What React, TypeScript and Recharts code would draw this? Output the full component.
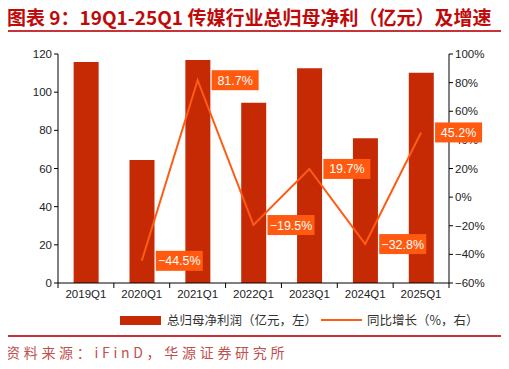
import React from 'react';
import { ComposedChart, Bar, Line, XAxis, YAxis, LabelList } from 'recharts';

const quarters = ['2019Q1', '2020Q1', '2021Q1', '2022Q1', '2023Q1', '2024Q1', '2025Q1'];
const profit = [115.8, 64.5, 116.9, 94.5, 112.5, 75.8, 110.2];
const growth: (number | null)[] = [null, -44.5, 81.7, -19.5, 19.7, -32.8, 45.2];
const leftTicks = [0, 20, 40, 60, 80, 100, 120];
const rightTicks = [-60, -40, -20, 0, 20, 40, 60, 80, 100];

const data = quarters.map((q, i) => ({ q, profit: profit[i], growth: growth[i] }));

const BAR = '#C62A05';
const LINE = '#FF5B14';
const BOX = '#FF5A0F';
const FONT = '"Liberation Sans", Arial, sans-serif';
const CJK = '"Noto Sans CJK SC", sans-serif';

const minus = (s: string) => s.replace('-', '\u2212');

const BAND = 391 / 7;

const QuarterTick = (props: any) => {
  const { x, y, payload, index } = props;
  return (
    <g>
      <line x1={x - BAND / 2} y1={y} x2={x - BAND / 2} y2={y + 5} stroke="#000" />
      {index === quarters.length - 1 && (
        <line x1={x + BAND / 2} y1={y} x2={x + BAND / 2} y2={y + 5} stroke="#000" />
      )}
      <text x={x} y={y + 15} textAnchor="middle" fontSize={11.5} fill="#222" fontFamily={FONT}>
        {payload.value}
      </text>
    </g>
  );
};

const GrowthLabel = (props: any) => {
  const { x, y, value } = props;
  if (value == null) return null;
  const w = 47;
  const h = 20;
  const left = x + 14;
  return (
    <g>
      <rect x={left} y={y - h / 2} width={w} height={h} fill={BOX} />
      <text x={left + w / 2} y={y + 4.5} textAnchor="middle" fontSize={12.5} fill="#fff" fontFamily={FONT}>
        {minus(value.toFixed(1)) + '%'}
      </text>
    </g>
  );
};

export default function App() {
  return (
    <div style={{ position: 'relative', width: 509, height: 369, margin: -8, background: '#fff', overflow: 'hidden' }}>
      <div style={{ position: 'absolute', left: 7, top: 3, fontFamily: CJK, fontWeight: 700, fontSize: 19, color: '#C00A0A', whiteSpace: 'nowrap', lineHeight: '28px' }}>
        图表 9：19Q1-25Q1 传媒行业总归母净利（亿元）及增速
      </div>
      <div style={{ position: 'absolute', left: 5, top: 30, width: 496, height: 2, background: '#C8333A' }} />

      <div style={{ position: 'absolute', left: 0, top: 0 }}>
        <ComposedChart width={509} height={300} data={data} margin={{ top: 54, right: 10, bottom: 0, left: 18 }} barCategoryGap="28%">
          <XAxis dataKey="q" yAxisId="l" xAxisId={0} height={17} tickSize={0} tickMargin={0} tickLine={false}
            stroke="#000" tick={<QuarterTick />} interval={0} />
          <YAxis yAxisId="l" orientation="left" width={40} domain={[0, 120]} ticks={leftTicks} stroke="#000"
            tickSize={4} tick={{ fontSize: 11.5, fill: '#222', fontFamily: FONT }} interval={0} />
          <YAxis yAxisId="r" orientation="right" width={50} domain={[-60, 100]} ticks={rightTicks} stroke="#000"
            tickSize={4} tick={{ fontSize: 11.5, fill: '#222', fontFamily: FONT }} interval={0}
            tickFormatter={(v: number) => minus(String(v)) + '%'} />
          <Bar yAxisId="l" dataKey="profit" fill={BAR} isAnimationActive={false} />
          <Line yAxisId="r" dataKey="growth" stroke={LINE} strokeWidth={2} dot={false} type="linear"
            isAnimationActive={false} connectNulls={false}>
            <LabelList dataKey="growth" content={<GrowthLabel />} />
          </Line>
        </ComposedChart>
      </div>

      <div style={{ position: 'absolute', left: 120, top: 316, width: 41, height: 9, background: BAR }} />
      <div style={{ position: 'absolute', left: 167, top: 311, fontFamily: CJK, fontSize: 12.5, color: '#333', lineHeight: '18px', whiteSpace: 'nowrap' }}>
        总归母净利润（亿元，左）
      </div>
      <div style={{ position: 'absolute', left: 321, top: 319, width: 41, height: 2, background: LINE }} />
      <div style={{ position: 'absolute', left: 367, top: 311, fontFamily: CJK, fontSize: 12.5, color: '#333', lineHeight: '18px', whiteSpace: 'nowrap' }}>
        同比增长（%，右）
      </div>

      <div style={{ position: 'absolute', left: 5, top: 335, width: 496, height: 1.5, background: '#C8333A' }} />
      <div style={{ position: 'absolute', left: 6, top: 343, fontFamily: CJK, fontSize: 14, letterSpacing: 3.7, color: '#C0504D', lineHeight: '18px', whiteSpace: 'nowrap' }}>
        资料来源：iFinD，华源证券研究所
      </div>
    </div>
  );
}
